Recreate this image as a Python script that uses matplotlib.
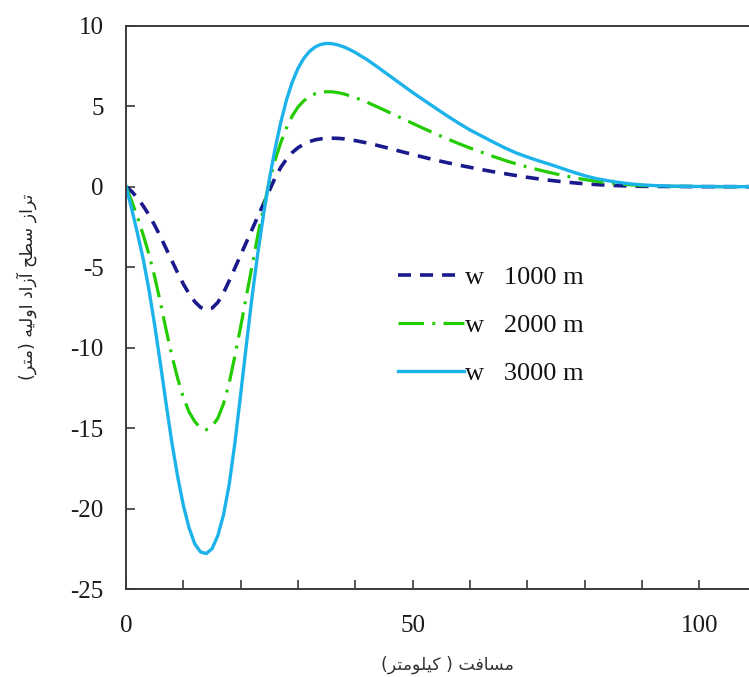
import matplotlib
matplotlib.use("Agg")
import matplotlib.pyplot as plt
from matplotlib.ticker import MultipleLocator, FixedLocator

# ---------------- data ----------------
x_km = [0, 1, 2, 3, 4, 5, 6, 7, 8, 9, 10, 11, 12, 13, 14, 15, 16, 17, 18, 19,
        20, 21, 22, 23, 24, 25, 26, 27, 28, 29, 30, 31, 32, 33, 34, 35, 36, 37,
        38, 39, 40, 42, 44, 46, 48, 50, 52, 54, 56, 58, 60, 62, 64, 66, 68, 70,
        72, 74, 76, 78, 80, 82, 84, 86, 88, 90, 92, 95, 100, 105, 109]

w1000 = [0, -0.3, -0.7, -1.2, -1.75, -2.4, -3.1, -3.85, -4.6, -5.35, -6.05,
         -6.65, -7.15, -7.5, -7.66, -7.55, -7.2, -6.6, -5.85, -5.05, -4.25,
         -3.45, -2.65, -1.85, -1.05, -0.25, 0.55, 1.2, 1.72, 2.12, 2.42, 2.64,
         2.8, 2.91, 2.97, 3.0, 3.01, 3.0, 2.97, 2.92, 2.86, 2.72, 2.55, 2.37,
         2.18, 2.0, 1.82, 1.65, 1.49, 1.34, 1.2, 1.06, 0.93, 0.81, 0.69, 0.58,
         0.48, 0.39, 0.31, 0.24, 0.18, 0.13, 0.09, 0.06, 0.04, 0.02, 0.015,
         0.01, 0.0, 0.0, 0.0]

w2000 = [0, -0.9, -1.9, -3.0, -4.2, -5.6, -7.2, -8.9, -10.5, -11.9, -13.1,
         -14.0, -14.6, -15.0, -15.1, -14.9, -14.4, -13.5, -12.2, -10.5, -8.7,
         -6.8, -4.9, -3.0, -1.3, 0.3, 1.65, 2.75, 3.65, 4.4, 4.95, 5.33, 5.6,
         5.77, 5.86, 5.9, 5.89, 5.84, 5.76, 5.65, 5.53, 5.25, 4.93, 4.6, 4.26,
         3.93, 3.6, 3.28, 2.97, 2.68, 2.4, 2.14, 1.88, 1.64, 1.42, 1.22, 1.04,
         0.87, 0.71, 0.57, 0.44, 0.33, 0.24, 0.17, 0.11, 0.07, 0.05, 0.02,
         0.01, 0.0, 0.0]

w3000 = [0, -1.4, -2.9, -4.5, -6.4, -8.6, -11.0, -13.5, -15.9, -18.0, -19.8,
         -21.2, -22.2, -22.7, -22.8, -22.5, -21.7, -20.4, -18.5, -15.9, -12.9,
         -9.8, -6.8, -4.1, -1.7, 0.45, 2.35, 4.0, 5.4, 6.5, 7.35, 7.97, 8.4,
         8.68, 8.84, 8.9, 8.88, 8.8, 8.68, 8.52, 8.33, 7.9, 7.4, 6.88, 6.36,
         5.85, 5.36, 4.88, 4.4, 3.95, 3.52, 3.15, 2.78, 2.42, 2.1, 1.84, 1.6,
         1.38, 1.14, 0.9, 0.68, 0.5, 0.37, 0.26, 0.17, 0.11, 0.07, 0.03, 0.01,
         0.0, 0.0]

labels = ["w   1000 m", "w   2000 m", "w   3000 m"]
y_ticks = [10, 5, 0, -5, -10, -15, -20, -25]
x_ticks = [0, 50, 100]
ylabel_text = "تراز سطح آزاد اولیه (متر)"
xlabel_text = "مسافت ( کیلومتر)"

# ---------------- simple Arabic/Persian shaping for display ----------------
FORMS = {  # isolated, final, initial, medial
    'ا': ('\uFE8D', '\uFE8E', None, None),
    'آ': ('\uFE81', '\uFE82', None, None),
    'ت': ('\uFE95', '\uFE96', '\uFE97', '\uFE98'),
    'ح': ('\uFEA1', '\uFEA2', '\uFEA3', '\uFEA4'),
    'د': ('\uFEA9', '\uFEAA', None, None),
    'ر': ('\uFEAD', '\uFEAE', None, None),
    'ز': ('\uFEAF', '\uFEB0', None, None),
    'س': ('\uFEB1', '\uFEB2', '\uFEB3', '\uFEB4'),
    'ط': ('\uFEC1', '\uFEC2', '\uFEC3', '\uFEC4'),
    'ف': ('\uFED1', '\uFED2', '\uFED3', '\uFED4'),
    'ق': ('\uFED5', '\uFED6', '\uFED7', '\uFED8'),
    'ل': ('\uFEDD', '\uFEDE', '\uFEDF', '\uFEE0'),
    'م': ('\uFEE1', '\uFEE2', '\uFEE3', '\uFEE4'),
    'ه': ('\uFEE9', '\uFEEA', '\uFEEB', '\uFEEC'),
    'و': ('\uFEED', '\uFEEE', None, None),
    'ی': ('\uFBFC', '\uFBFD', '\uFBFE', '\uFBFF'),
    'ک': ('\uFB8E', '\uFB8F', '\uFB90', '\uFB91'),
}


def shape_rtl(s):
    out = []
    n = len(s)
    for i, ch in enumerate(s):
        if ch not in FORMS:
            out.append(ch)
            continue
        f = FORMS[ch]
        prev = s[i - 1] if i > 0 else None
        nxt = s[i + 1] if i < n - 1 else None
        join_prev = prev in FORMS and FORMS[prev][2] is not None
        join_next = nxt in FORMS and f[2] is not None
        if join_prev and join_next:
            out.append(f[3])
        elif join_prev:
            out.append(f[1])
        elif join_next:
            out.append(f[2])
        else:
            out.append(f[0])
    vis = ''.join(reversed(out))
    vis = vis.replace('(', '\0').replace(')', '(').replace('\0', ')')
    return vis


# ---------------- figure ----------------
plt.rcParams['font.family'] = ['Liberation Serif', 'DejaVu Serif']
plt.rcParams['axes.unicode_minus'] = False
fig = plt.figure(figsize=(7.49, 6.77), dpi=100)
ax = fig.add_axes([126 / 749, 1 - 589 / 677, 1 - 126 / 749 + 0.002, (589 - 25.7) / 677])

ax.plot(x_km, w1000, color='#1a1a8c', lw=2.6, linestyle=(0, (3.6, 2.5)),
        label=labels[0], dash_capstyle='butt')
ax.plot(x_km, w2000, color='#22cc00', lw=2.3, linestyle=(0, (8.0, 2.6, 0.9, 2.6)),
        label=labels[1], dash_capstyle='butt')
ax.plot(x_km, w3000, color='#1cb2ea', lw=2.4, linestyle='-', label=labels[2])

ax.set_xlim(0, (749 - 126) / 5.72)
ax.set_ylim(-25, 10)
ax.set_yticks(y_ticks)
ax.xaxis.set_major_locator(FixedLocator(x_ticks))
ax.xaxis.set_minor_locator(MultipleLocator(10))

for side in ['left', 'top', 'bottom']:
    ax.spines[side].set_color('#3a3a3a')
    ax.spines[side].set_linewidth(1.4)
ax.spines['right'].set_visible(False)

ax.tick_params(axis='both', which='both', direction='in', length=6.5,
               width=1.2, color='#3a3a3a', labelsize=18, labelcolor='#1a1a1a')
ax.tick_params(axis='y', pad=16, right=False)
ax.tick_params(axis='x', pad=19, top=False)

leg = ax.legend(loc='upper left', bbox_to_anchor=(398 / 749, 1 - 266 / 677),
                bbox_transform=fig.transFigure, frameon=False, fontsize=19,
                handlelength=2.5, handletextpad=0.05, labelspacing=0.93,
                borderpad=0, borderaxespad=0)
for t in leg.get_texts():
    t.set_color('#111111')

fig.text(27 / 749, 1 - 287 / 677, shape_rtl(ylabel_text), rotation=90,
         ha='center', va='center', fontsize=12.5, family=['DejaVu Sans'],
         color='#222222')
fig.text(447 / 749, 1 - 665 / 677, shape_rtl(xlabel_text), ha='center',
         va='center', fontsize=12.5, family=['DejaVu Sans'], color='#333333')

fig.savefig('out.png', dpi=100)
